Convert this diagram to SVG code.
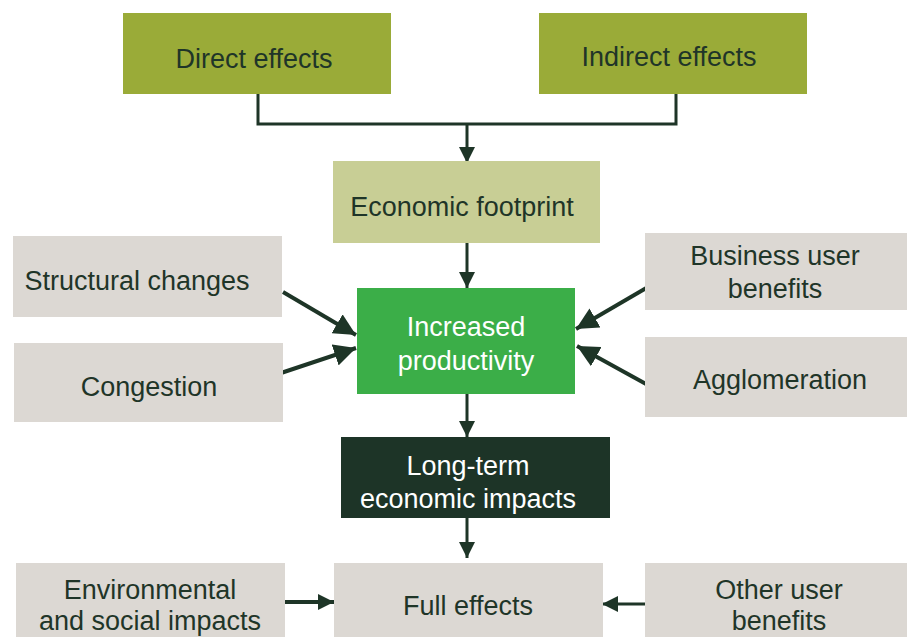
<svg xmlns="http://www.w3.org/2000/svg" width="907" height="637" viewBox="0 0 907 637">
<defs>
<marker id="ah" viewBox="0 0 10 10" refX="10" refY="5" markerWidth="16" markerHeight="16" markerUnits="userSpaceOnUse" orient="auto">
<path d="M0,0 L10,5 L0,10 Z" fill="#1e3527"/>
</marker>
<marker id="ah2" viewBox="0 0 10 10" refX="10" refY="5" markerWidth="22" markerHeight="22" markerUnits="userSpaceOnUse" orient="auto">
<path d="M0,0 L10,5 L0,10 Z" fill="#1e3527"/>
</marker>
<style>
text{font-family:"Liberation Sans",Arial,sans-serif;font-size:27px;text-anchor:middle;fill:#1f3528}
.w{fill:#ffffff}
.olive{fill:#9aab38}
.light{fill:#c8ce95}
.gray{fill:#dcd8d3}
.green{fill:#3bae48}
.dark{fill:#1d3427}
.c{stroke:#1e3527;stroke-width:3;fill:none}
.d{stroke-width:4}
</style>
</defs>
<rect width="907" height="637" fill="#ffffff"/>
<g id="connectors">
<path class="c" d="M258,94 V124 H676 V94"/>
<path class="c" d="M467,124 V163" marker-end="url(#ah)"/>
<path class="c" d="M467,243 V288" marker-end="url(#ah)"/>
<path class="c d" d="M283,292 L356,335" marker-end="url(#ah2)"/>
<path class="c d" d="M281,373 L356,348" marker-end="url(#ah2)"/>
<path class="c d" d="M648,287 L576,329" marker-end="url(#ah2)"/>
<path class="c d" d="M646,384 L577,346" marker-end="url(#ah2)"/>
<path class="c" d="M467,394 V437" marker-end="url(#ah)"/>
<path class="c" d="M467,518 V558" marker-end="url(#ah)"/>
<path class="c d" d="M285,602 H334" marker-end="url(#ah)"/>
<path class="c" d="M645,604 H602" stroke-width="5" marker-end="url(#ah)"/>
</g>
<g id="direct"><rect class="olive" x="123" y="13" width="268" height="81"/><text x="254" y="68">Direct effects</text></g>
<g id="indirect"><rect class="olive" x="539" y="13" width="268" height="81"/><text x="669" y="66">Indirect effects</text></g>
<g id="footprint"><rect class="light" x="333" y="161" width="267" height="82"/><text x="462" y="216">Economic footprint</text></g>
<g id="structural"><rect class="gray" x="13" y="236" width="269" height="81"/><text x="137" y="290">Structural changes</text></g>
<g id="congestion"><rect class="gray" x="14" y="343" width="269" height="79"/><text x="149" y="396">Congestion</text></g>
<g id="productivity"><rect class="green" x="357" y="288" width="218" height="106"/><text class="w" x="466" y="336">Increased</text><text class="w" x="466" y="370">productivity</text></g>
<g id="business"><rect class="gray" x="645" y="233" width="262" height="77"/><text x="775" y="265">Business user</text><text x="775" y="298">benefits</text></g>
<g id="agglomeration"><rect class="gray" x="645" y="337" width="262" height="80"/><text x="780" y="389">Agglomeration</text></g>
<g id="longterm"><rect class="dark" x="341" y="437" width="269" height="81"/><text class="w" x="468" y="475">Long-term</text><text class="w" x="468" y="508">economic impacts</text></g>
<g id="full"><rect class="gray" x="334" y="563" width="269" height="74"/><text x="468" y="615">Full effects</text></g>
<g id="environmental"><rect class="gray" x="16" y="563" width="269" height="74"/><text x="150" y="599">Environmental</text><text x="150" y="630">and social impacts</text></g>
<g id="other"><rect class="gray" x="645" y="563" width="262" height="74"/><text x="779" y="599">Other user</text><text x="779" y="630">benefits</text></g>
</svg>
